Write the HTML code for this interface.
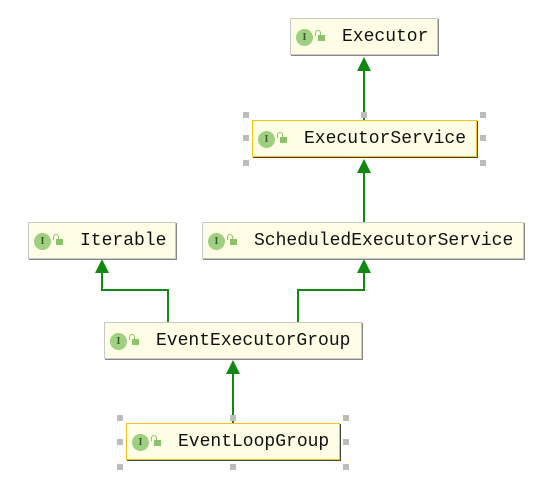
<!DOCTYPE html>
<html><head><meta charset="utf-8"><style>
body{margin:0;width:550px;height:499px;background:#fff;position:relative;overflow:hidden;font-family:"Liberation Mono",monospace}
.n{position:absolute;box-sizing:border-box;background:#fefee6;border:1px solid #c8c8c8;box-shadow:1px 1px 0 #888;height:37px}
.n.sel{border:1px solid #f0c419;box-shadow:1px 1px 0 #444}
.n .ic{position:absolute;left:5px;top:10px;width:17px;height:17px;border-radius:50%;background:#9fcf80;color:#3d5a2c;font:bold 10px "Liberation Serif",serif;text-align:center;line-height:17px}
.n .lk{position:absolute;left:27px;top:16px;width:7px;height:6px;background:#8cc36a}
.n .lk:before{content:"";position:absolute;left:-3px;top:-5px;width:4px;height:5px;border:1.5px solid #8cc36a;border-bottom:none;border-radius:3px 3px 0 0}
.n .t{position:absolute;left:51px;top:8px;font-size:18px;color:#111;letter-spacing:0;line-height:20px}
.h{position:absolute;width:6px;height:6px;background:#bcbcbc}
</style></head><body>
<svg width="550" height="499" style="position:absolute;left:0;top:0">
<g stroke="#118811" stroke-width="2" fill="none">
<path d="M364 70 V120"/><path d="M364 272 V290 H298 V322"/><path d="M364 170 V222"/>
<path d="M102 272 V290 H168 V322"/><path d="M233 373 V423"/>
</g>
<g fill="#118811">
<path d="M364 57 L357 71 L371 71Z"/><path d="M364 159 L357 173 L371 173Z"/>
<path d="M364 259 L357 273 L371 273Z"/><path d="M102 259 L95 273 L109 273Z"/>
<path d="M233 360 L226 374 L240 374Z"/>
</g>
</svg>
<div class="n" style="left:290px;top:18px;width:148px"><div class="ic">I</div><div class="lk"></div><div class="t">Executor</div></div>
<div class="n sel" style="left:252px;top:120px;width:225px"><div class="ic">I</div><div class="lk"></div><div class="t">ExecutorService</div></div>
<div class="n" style="left:28px;top:222px;width:148px"><div class="ic">I</div><div class="lk"></div><div class="t">Iterable</div></div>
<div class="n" style="left:202px;top:222px;width:322px"><div class="ic">I</div><div class="lk"></div><div class="t">ScheduledExecutorService</div></div>
<div class="n" style="left:104px;top:322px;width:258px"><div class="ic">I</div><div class="lk"></div><div class="t">EventExecutorGroup</div></div>
<div class="n sel" style="left:126px;top:423px;width:214px"><div class="ic">I</div><div class="lk"></div><div class="t">EventLoopGroup</div></div>
<div class="h" style="left:243px;top:112px"></div><div class="h" style="left:361px;top:112px"></div><div class="h" style="left:480px;top:112px"></div>
<div class="h" style="left:243px;top:135px"></div><div class="h" style="left:480px;top:135px"></div>
<div class="h" style="left:243px;top:160px"></div><div class="h" style="left:480px;top:160px"></div>
<div class="h" style="left:117px;top:415px"></div><div class="h" style="left:230px;top:415px"></div><div class="h" style="left:343px;top:415px"></div>
<div class="h" style="left:117px;top:439px"></div><div class="h" style="left:343px;top:439px"></div>
<div class="h" style="left:117px;top:464px"></div><div class="h" style="left:230px;top:464px"></div><div class="h" style="left:343px;top:464px"></div>
</body></html>
